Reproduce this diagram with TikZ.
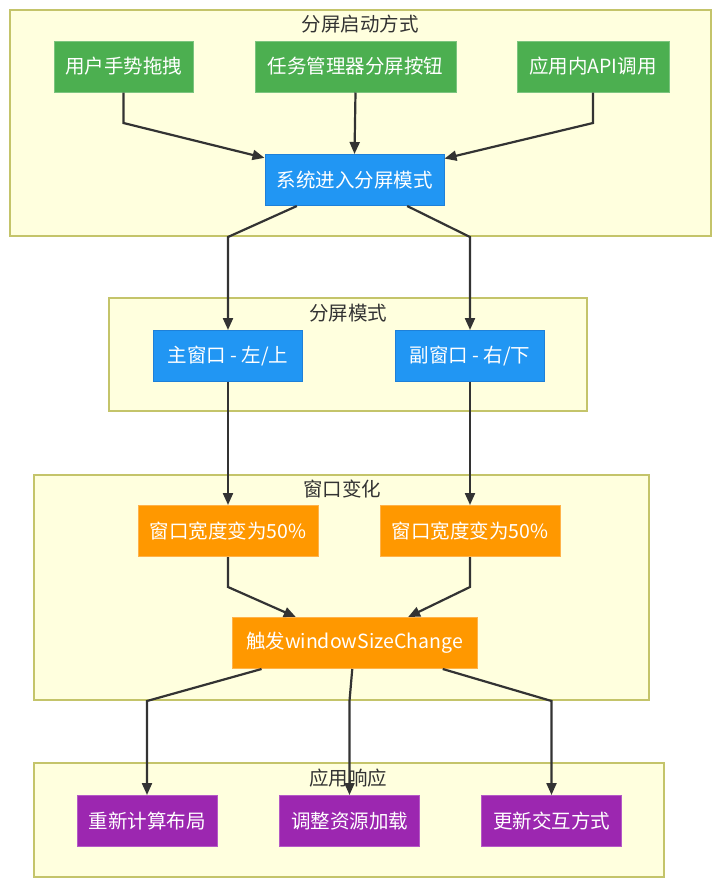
\documentclass[tikz,border=0pt]{standalone}
\usepackage{fontspec}
\setmainfont{Noto Sans CJK SC}
\usetikzlibrary{arrows.meta}

\definecolor{grpfill}{HTML}{FFFFDE}
\definecolor{grpline}{HTML}{C4C46A}
\definecolor{greenbox}{HTML}{4CAF50}
\definecolor{greenline}{HTML}{7CC47F}
\definecolor{bluebox}{HTML}{2196F3}
\definecolor{blueline}{HTML}{1E80D8}
\definecolor{orangebox}{HTML}{FF9800}
\definecolor{orangeline}{HTML}{FFB24A}
\definecolor{purplebox}{HTML}{9C27B0}
\definecolor{purpleline}{HTML}{B55AC6}
\definecolor{edgecol}{HTML}{333333}

\tikzset{
  grp/.style={fill=grpfill, draw=grpline, line width=1.3pt},
  grptitle/.style={text=edgecol, font=\fontsize{19.5}{22}\selectfont, inner sep=0pt},
  box/.style={minimum height=51pt, inner xsep=9pt, inner ysep=0pt, text=white,
              font=\fontsize{19.5}{22}\selectfont, line width=1pt},
  startbox/.style={box, fill=greenbox, draw=greenline},
  modebox/.style={box, fill=bluebox, draw=blueline},
  changebox/.style={box, fill=orangebox, draw=orangeline},
  respbox/.style={box, fill=purplebox, draw=purpleline},
  flow/.style={draw=edgecol, line width=2.2pt, -{Triangle[length=12pt,width=10pt]}}
}

\begin{document}
\begin{tikzpicture}[x=1pt, y=-1pt]
  \useasboundingbox (0,0) rectangle (721,887);

  % gruppi
  \draw[grp] (10,10) rectangle (711,236);
  \node[grptitle] (t1) at (360,24) {分屏启动方式};
  \draw[grp] (109,298) rectangle (587,411);
  \node[grptitle] (t2) at (348,313) {分屏模式};
  \draw[grp] (34,475) rectangle (649,700);
  \node[grptitle] (t3) at (342,489) {窗口变化};
  \draw[grp] (34,763) rectangle (664,877);
  \node[grptitle] (t4) at (348,778) {应用响应};

  % avvio
  \node[startbox, minimum width=139pt] (gesture) at (123.5,66.5) {用户手势拖拽};
  \node[startbox, minimum width=201pt] (taskmgr) at (355.5,66.5) {任务管理器分屏按钮};
  \node[startbox, minimum width=152pt] (appapi) at (593,66.5) {应用内API调用};
  \node[modebox, minimum width=179pt] (enter) at (354.5,180) {系统进入分屏模式};

  % modalita
  \node[modebox, minimum width=149pt] (primary) at (228,356) {主窗口 - 左/上};
  \node[modebox, minimum width=149pt] (secondary) at (470,356) {副窗口 - 右/下};

  % finestre
  \node[changebox, minimum width=180pt] (widthA) at (228,531) {窗口宽度变为50\%};
  \node[changebox, minimum width=180pt] (widthB) at (470,531) {窗口宽度变为50\%};
  \node[changebox, minimum width=245pt] (sizechg) at (354.5,643) {触发windowSizeChange};

  % risposta
  \node[respbox, minimum width=140pt] (layout) at (147,821) {重新计算布局};
  \node[respbox, minimum width=140pt] (resource) at (349.5,821) {调整资源加载};
  \node[respbox, minimum width=140pt] (interact) at (551.5,821) {更新交互方式};

  % frecce
  \draw[flow] (gesture.south) -- (123.5,123) -- (enter);
  \draw[flow] (taskmgr.south) -- (enter.north);
  \draw[flow] (appapi.south) -- (593,123) -- (enter);
  \draw[flow] (enter) -- (228,237) -- (primary.north);
  \draw[flow] (enter) -- (470,237) -- (secondary.north);
  \draw[flow] (primary.south) -- (widthA.north);
  \draw[flow] (secondary.south) -- (widthB.north);
  \draw[flow] (widthA.south) -- (228,587) -- (sizechg);
  \draw[flow] (widthB.south) -- (470,587) -- (sizechg);
  \draw[flow] (sizechg) -- (147,701) -- (layout.north);
  \draw[flow] (sizechg) -- (349.5,701) -- (resource.north);
  \draw[flow] (sizechg) -- (551.5,701) -- (interact.north);
\end{tikzpicture}
\end{document}
